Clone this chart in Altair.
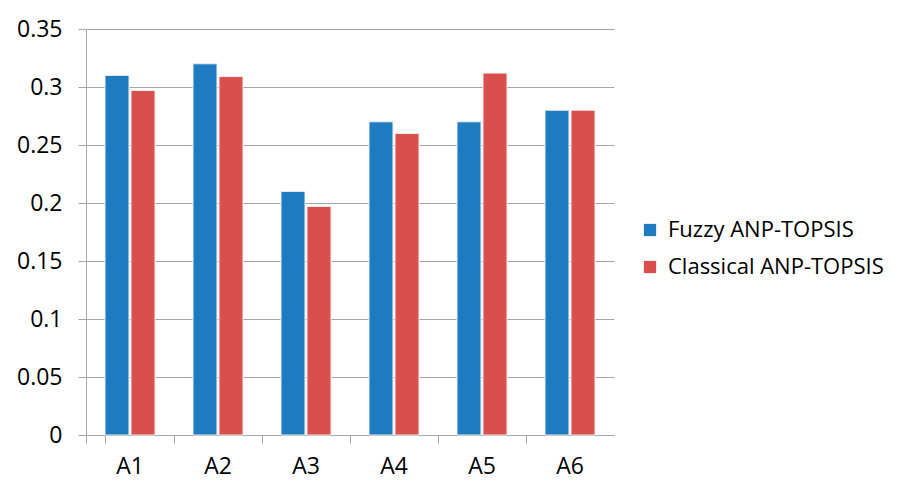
import altair as alt
import pandas as pd

categories = ["A1", "A2", "A3", "A4", "A5", "A6"]
fuzzy = [0.31, 0.32, 0.21, 0.27, 0.27, 0.28]
classical = [0.297, 0.309, 0.197, 0.26, 0.312, 0.28]
series = ["Fuzzy ANP-TOPSIS", "Classical ANP-TOPSIS"]
y_ticks = [0, 0.05, 0.1, 0.15, 0.2, 0.25, 0.3, 0.35]

rows = []
for c, f, k in zip(categories, fuzzy, classical):
    rows.append({"cat": c, "series": series[0], "value": f})
    rows.append({"cat": c, "series": series[1], "value": k})
df = pd.DataFrame(rows)

FONT = "Open Sans"
GRID = "#a6a6a6"

chart = alt.Chart(df).mark_bar(stroke="#eeeeee", strokeWidth=1).encode(
    x=alt.X("cat:N", sort=categories, title=None,
            scale=alt.Scale(paddingInner=0.432, paddingOuter=0.216),
            axis=alt.Axis(labelAngle=0, labelFontSize=23, labelFont=FONT, labelColor="#000000",
                          domainColor=GRID, tickColor=GRID, tickSize=8, labelPadding=12,
                          bandPosition=-0.38, tickExtra=True, grid=False)),
    xOffset=alt.XOffset("series:N", sort=series, scale=alt.Scale(paddingInner=0.077, paddingOuter=0)),
    y=alt.Y("value:Q", title=None,
            scale=alt.Scale(domain=[0, 0.35], nice=False),
            axis=alt.Axis(values=y_ticks, format=".2~f", labelFontSize=23, labelFont=FONT,
                          labelColor="#000000", domainColor=GRID, tickColor=GRID, tickSize=8,
                          labelPadding=16, gridColor=GRID, grid=True)),
    color=alt.Color("series:N", sort=series, title=None,
                    scale=alt.Scale(domain=series, range=["#1f7bc0", "#da4f4b"]),
                    legend=alt.Legend(orient="none", legendX=553, legendY=190,
                                      labelFontSize=22, labelFont=FONT, labelColor="#000000",
                                      labelLimit=320,
                                      symbolType="square", symbolSize=150, symbolStrokeWidth=0,
                                      rowPadding=15, labelOffset=7)),
).properties(
    width=528, height=406,
    autosize=alt.AutoSizeParams(type="none"),
    padding={"left": 78, "top": 21, "right": 292, "bottom": 44},
).configure_view(stroke=None)

chart.save("out.html", embed_options={"renderer": "svg", "actions": False})
